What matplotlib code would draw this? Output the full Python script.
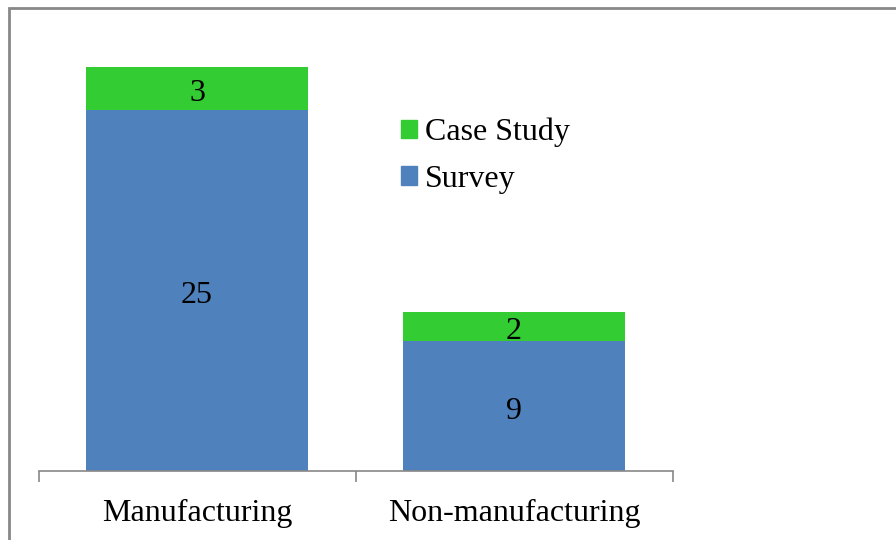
import matplotlib
matplotlib.use('Agg')
import matplotlib.pyplot as plt
from matplotlib.patches import Rectangle, Patch

categories = ['Manufacturing', 'Non-manufacturing']
survey = [25, 9]
case_study = [3, 2]

blue = '#4F81BD'
green = '#33CC33'

plt.rcParams['font.family'] = ['Liberation Serif', 'DejaVu Serif']

fig = plt.figure(figsize=(8.96, 5.4), dpi=100)
ax = fig.add_axes([38.5/896, 1-471/540, (672-38)/896, (471-38)/540])

x = range(len(categories))
ax.bar(x, survey, width=0.703, color=blue)
ax.bar(x, case_study, bottom=survey, width=0.703, color=green)

# value labels, nudged down a little to sit centred like the original
for i in x:
    ax.annotate(str(survey[i]), (i, survey[i]/2), xytext=(0, -5), textcoords='offset pixels',
                ha='center', va='center', fontsize=23)
    ax.annotate(str(case_study[i]), (i, survey[i] + case_study[i]/2), xytext=(0, -5),
                textcoords='offset pixels', ha='center', va='center', fontsize=23)

ax.set_xlim(-0.5, 1.5)
ax.set_ylim(0, 30)
ax.set_yticks([])
for s in ['left', 'top', 'right']:
    ax.spines[s].set_visible(False)
ax.spines['bottom'].set_color('#888888')
ax.spines['bottom'].set_linewidth(1.2)
ax.set_xticks(list(x))
ax.set_xticklabels(categories, fontsize=23)
ax.tick_params(axis='x', which='major', length=0, pad=20)
ax.set_xticks([-0.5, 0.5, 1.5], minor=True)
ax.tick_params(axis='x', which='minor', length=8, width=1.2, color='#888888')

handles = [Patch(color=green, label='Case Study'), Patch(color=blue, label='Survey')]
ax.legend(handles=handles, loc='upper left', bbox_to_anchor=(350/634, 1-67/433),
          frameon=False, fontsize=23, handlelength=0.5, handleheight=0.5,
          handletextpad=0.25, labelspacing=0.55, borderaxespad=0)

fig.patches.append(Rectangle((9/896, -0.1), 1.2, 1-8/540+0.1, transform=fig.transFigure,
                             fill=False, edgecolor='#888888', linewidth=2))

fig.savefig('out.png', facecolor='white')
